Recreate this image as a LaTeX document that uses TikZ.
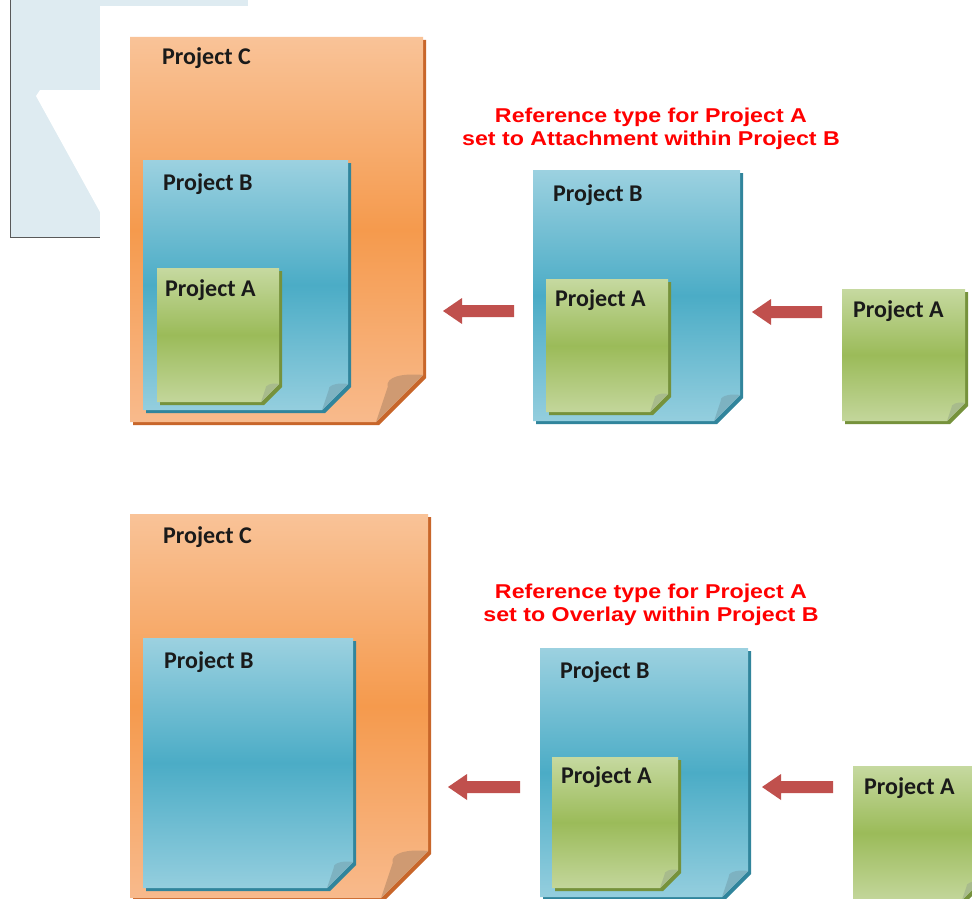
\documentclass[tikz,border=0pt]{standalone}
\usepackage{fontspec}
\usepackage{graphicx}
\setmainfont{Carlito}
\newfontfamily\redfont{Liberation Sans}
\definecolor{labelc}{HTML}{1A1A1A}
\definecolor{orangetop}{HTML}{F9C398}
\definecolor{orangemid}{HTML}{F59A4D}
\definecolor{orangebot}{HTML}{F8BA8C}
\definecolor{orangeedge}{HTML}{C8662A}
\definecolor{orangeflap}{HTML}{CF9A72}
\definecolor{bluetop}{HTML}{9CD1E0}
\definecolor{bluemid}{HTML}{4BACC6}
\definecolor{bluebot}{HTML}{94CEDE}
\definecolor{blueedge}{HTML}{31859C}
\definecolor{blueflap}{HTML}{7DB2C1}
\definecolor{greentop}{HTML}{C6D9A0}
\definecolor{greenmid}{HTML}{9BBB59}
\definecolor{greenbot}{HTML}{C3D69B}
\definecolor{greenedge}{HTML}{76923C}
\definecolor{greenflap}{HTML}{A8BB8C}
\definecolor{arrowc}{HTML}{C0504D}
\definecolor{bgblue}{HTML}{DEEBF1}
\definecolor{redtext}{HTML}{FF0000}
\tikzset{
  lbl/.style={anchor=base west, inner sep=0pt, text=labelc,
    font=\bfseries\fontsize{24}{27}\selectfont},
  redlbl/.style={anchor=base, inner sep=0pt, text=redtext,
    font=\redfont\bfseries\fontsize{20}{23}\selectfont},
  blockarrow/.style={fill=arrowc},
}
% #1 name, #2 x1, #3 y1, #4 x2, #5 y2, #6 fold, #7 colour prefix
\newcommand\pagesheet[7]{%
  \fill[#7edge] (#2+3,#3+3) -- (#4+3,#3+3) -- (#4+3,#5-#6+3) -- (#4-#6+3,#5+3) -- (#2+3,#5+3) -- cycle;
  \shade[top color=#7top, bottom color=#7bot, middle color=#7mid]
    (#2,#3) coordinate (#1-nw) -- (#4,#3) coordinate (#1-ne) -- (#4,#5-#6) coordinate (#1-f1)
    -- (#4-#6,#5) coordinate (#1-f2) -- (#2,#5) coordinate (#1-sw) -- cycle;
  \fill[#7flap] (#1-f1) .. controls (#4-0.45*#6,#5-#6-2) and (#4-0.8*#6,#5-#6+2) .. (#4-0.75*#6,#5-0.75*#6) -- (#1-f2) -- cycle;
}
% #1 name, #2 tip x, #3 y, #4 tail x
\newcommand\blockarr[4]{%
  \fill[blockarrow] (#2,#3) coordinate (#1-tip) -- (#2+19,#3-13) -- (#2+19,#3-6) -- (#4,#3-6) coordinate (#1-tail)
    -- (#4,#3+6) -- (#2+19,#3+6) -- (#2+19,#3+13) -- cycle;
}
\begin{document}
\begin{tikzpicture}[x=1pt,y=-1pt]
\useasboundingbox (0,0) rectangle (972,899);
\fill[white] (0,0) rectangle (972,899);
% background fragment top left
\fill[bgblue] (10,0) rectangle (100,237);
\fill[bgblue] (100,0) rectangle (248,6);
\fill[white] (36,96) -- (40,90) -- (100,90) -- (100,212) -- cycle;
\draw[gray!70!black, line width=1pt] (10,0) -- (10,237) -- (100,237);

% ===== top row =====
\pagesheet{tC}{130}{37}{423}{422}{47}{orange}
\node[lbl] (tCl) at (162,65) {Project C};
\pagesheet{tB}{143}{160}{348}{410}{26}{blue}
\node[lbl] (tBl) at (163,190) {Project B};
\pagesheet{tA}{157}{268}{279}{402}{18}{green}
\node[lbl] (tAl) at (165,296) {Project A};

\node[redlbl] (tR1) at (651,122) {\scalebox{1.16}[1]{Reference type for Project A}};
\node[redlbl] (tR2) at (651,145) {\scalebox{1.16}[1]{set to Attachment within Project B}};

\blockarr{ta1}{443}{311}{514}
\pagesheet{tmB}{533}{170}{740}{421}{26}{blue}
\node[lbl] (tmBl) at (553,201) {Project B};
\pagesheet{tmA}{546}{279}{668}{412}{18}{green}
\node[lbl] (tmAl) at (555,306) {Project A};

\blockarr{ta2}{752}{312}{822}
\pagesheet{trA}{842}{289}{965}{421}{18}{green}
\node[lbl] (trAl) at (853,317) {Project A};

% ===== bottom row =====
\pagesheet{bC}{130}{514}{428}{898}{47}{orange}
\node[lbl] (bCl) at (163,543) {Project C};
\pagesheet{bB}{143}{638}{353}{888}{26}{blue}
\node[lbl] (bBl) at (164,668) {Project B};

\node[redlbl] (bR1) at (651,598) {\scalebox{1.16}[1]{Reference type for Project A}};
\node[redlbl] (bR2) at (651,621) {\scalebox{1.16}[1]{set to Overlay within Project B}};

\blockarr{ba1}{448}{787}{520}
\pagesheet{bmB}{540}{648}{748}{897}{26}{blue}
\node[lbl] (bmBl) at (560,678) {Project B};
\pagesheet{bmA}{552}{757}{678}{888}{18}{green}
\node[lbl] (bmAl) at (561,783) {Project A};

\blockarr{ba2}{762}{787}{833}
\pagesheet{brA}{853}{766}{980}{900}{18}{green}
\node[lbl] (brAl) at (864,794) {Project A};
\end{tikzpicture}
\end{document}
